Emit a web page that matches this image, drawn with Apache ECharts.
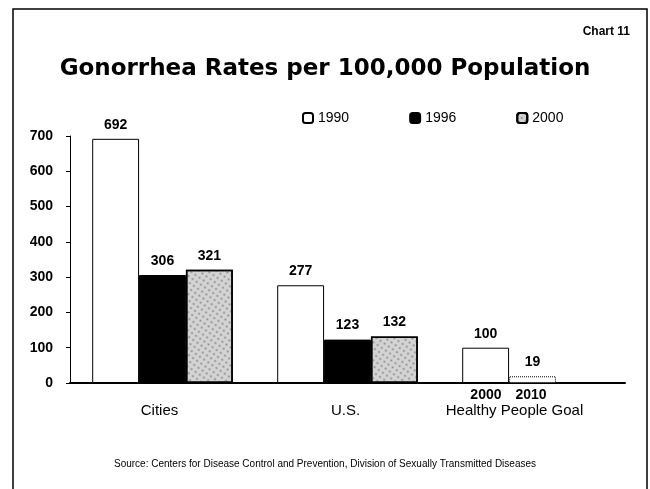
<!DOCTYPE html>
<html>
<head>
<meta charset="utf-8">
<style>
  html, body { margin: 0; padding: 0; background: #fff; }
  #chart { width: 650px; height: 489px; }
</style>
<script src="https://cdn.jsdelivr.net/npm/echarts@6/dist/echarts.min.js"></script>
</head>
<body>
<div id="chart"></div>
<script>
// categories and values
var categories = ['Cities', 'U.S.', 'Healthy People Goal']
var goalYears = ['2000', '2010']
var rates1990 = [692, 277]
var rates1996 = [306, 123]
var rates2000 = [321, 132]
// Healthy People goals sit in the first two slots of the third group
var goals = [100, 19]
var yTicks = { min: 0, max: 700, interval: 100 }

var chart = echarts.init(document.getElementById('chart'))

var labelFont = { fontFamily: 'Liberation Sans', fontWeight: 'bold', fontSize: 14, color: '#000' }

chart.setOption({
  backgroundColor: '#fff',
  animation: false,
  title: [{
    text: 'Gonorrhea Rates per 100,000 Population',
    left: 'center',
    top: 53,
    textStyle: { fontFamily: 'DejaVu Sans', fontWeight: 'bold', fontSize: 23, color: '#000' }
  }, {
    text: 'Chart 11',
    right: 15,
    top: 21,
    textStyle: { fontFamily: 'Liberation Sans', fontWeight: 'bold', fontSize: 12, color: '#000' }
  }, {
    text: 'Source: Centers for Disease Control and Prevention, Division of Sexually Transmitted Diseases',
    left: 'center',
    top: 454,
    textStyle: { fontFamily: 'Liberation Sans', fontWeight: 'normal', fontSize: 10, color: '#000' }
  }],
  graphic: [{
    type: 'rect',
    shape: { x: 13, y: 9, width: 634, height: 490 },
    style: { fill: 'none', stroke: '#000', lineWidth: 1.5 },
    silent: true
  }],
  legend: {
    left: 297,
    top: 106,
    itemWidth: 10,
    itemHeight: 10,
    itemGap: 60,
    textStyle: { fontFamily: 'Liberation Sans', fontSize: 14, color: '#000' },
    data: ['1990', '1996', '2000']
  },
  grid: { left: 70, right: 25, top: 136, bottom: 106 },
  xAxis: {
    type: 'category',
    data: categories,
    axisLine: { lineStyle: { color: '#000', width: 2 } },
    axisTick: { show: false },
    axisLabel: {
      margin: 4,
      interval: 0,
      formatter: function (v, i) {
        if (i === 2) {
          return '{yr|' + goalYears[0] + '}{gap|}{yr2|' + goalYears[1] + '}\n{hp|' + v + '}'
        }
        return '{blank| }\n{' + (i === 0 ? 'c' : 'us') + '|' + v + '}'
      },
      rich: {
        blank: { fontSize: 14, lineHeight: 16 },
        yr: { fontFamily: 'Liberation Sans', fontWeight: 'bold', fontSize: 14, lineHeight: 16, color: '#000' },
        gap: { width: 14 },
        yr2: { fontFamily: 'Liberation Sans', fontWeight: 'bold', fontSize: 14, lineHeight: 16, color: '#000', padding: [0, 48, 0, 0] },
        c: { fontFamily: 'Liberation Sans', fontSize: 15, lineHeight: 16, color: '#000', padding: [0, 6, 0, 0] },
        us: { fontFamily: 'Liberation Sans', fontSize: 15, lineHeight: 16, color: '#000', padding: [0, 4, 0, 0] },
        hp: { fontFamily: 'Liberation Sans', fontSize: 15, lineHeight: 16, color: '#000', padding: [0, 36, 0, 0] }
      }
    }
  },
  yAxis: {
    type: 'value',
    min: yTicks.min,
    max: yTicks.max,
    interval: yTicks.interval,
    splitLine: { show: false },
    axisLine: { show: true, lineStyle: { color: '#000', width: 1 } },
    axisTick: { show: true, length: 4, lineStyle: { color: '#000' } },
    axisLabel: { margin: 17, fontFamily: 'Liberation Sans', fontWeight: 'bold', fontSize: 14, color: '#000' }
  },
  series: [{
    name: '1990',
    type: 'bar',
    barGap: '0%',
    barCategoryGap: '24%',
    data: rates1990.concat([goals[0]]),
    itemStyle: { color: '#fff', borderColor: '#000', borderWidth: 1 },
    label: Object.assign({ show: true, position: 'top', distance: 7 }, labelFont)
  }, {
    name: '1996',
    type: 'bar',
    data: rates1996.concat([{
      value: goals[1],
      itemStyle: { color: '#fff', borderColor: '#000', borderWidth: 1, borderType: 'dotted' }
    }]),
    itemStyle: { color: '#000', borderColor: '#000', borderWidth: 1 },
    label: Object.assign({ show: true, position: 'top', distance: 7 }, labelFont)
  }, {
    name: '2000',
    type: 'bar',
    data: rates2000.concat(['-']),
    itemStyle: {
      color: '#d4d4d4',
      borderColor: '#000',
      borderWidth: 1.5,
      decal: {
        symbol: 'circle',
        symbolSize: 0.7,
        color: 'rgba(70,70,70,0.55)',
        dashArrayX: [3, 2],
        dashArrayY: [3, 2],
        rotation: 0.6
      }
    },
    label: Object.assign({ show: true, position: 'top', distance: 7 }, labelFont)
  }]
})
</script>
</body>
</html>
